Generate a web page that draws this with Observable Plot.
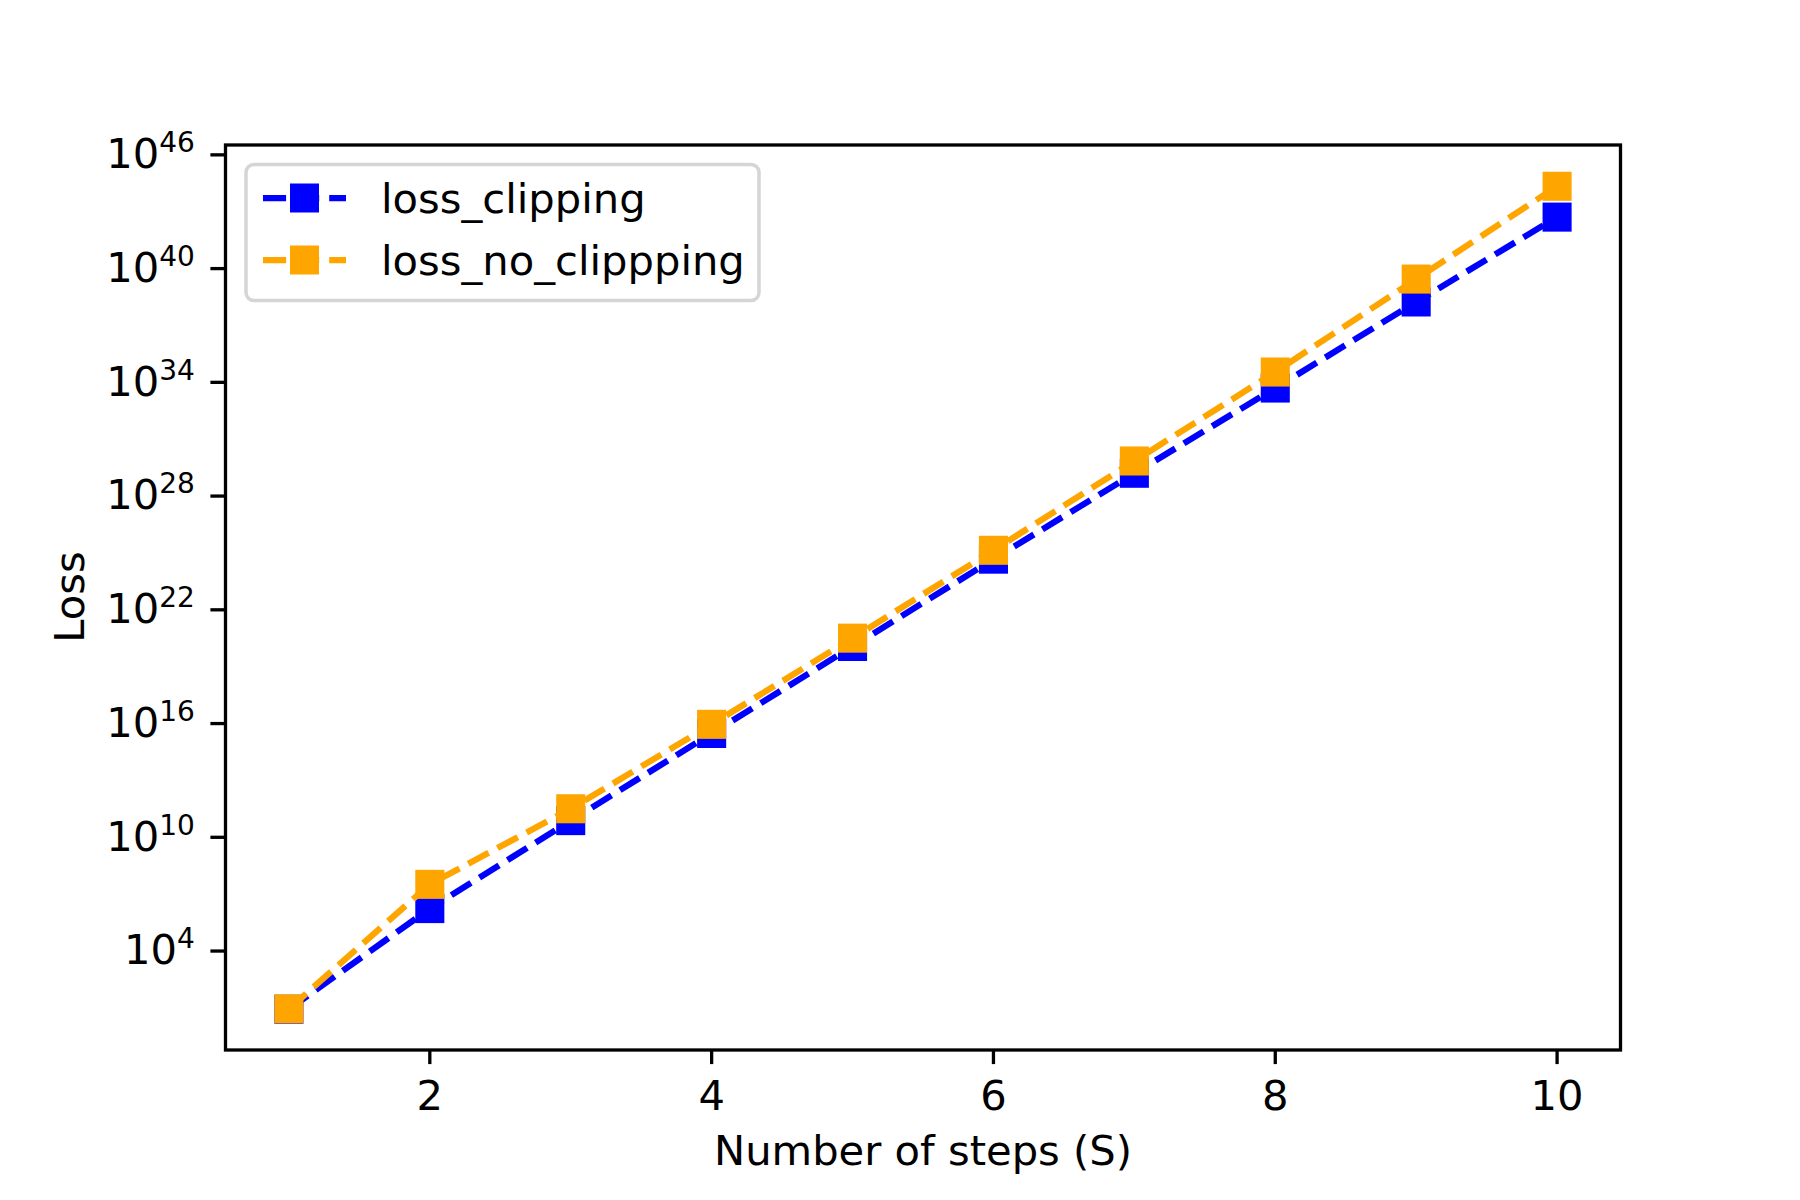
<!DOCTYPE html>
<html>
<head>
<meta charset="utf-8">
<script src="https://cdn.jsdelivr.net/npm/d3@7"></script>
<script src="https://cdn.jsdelivr.net/npm/@observablehq/plot@0.6"></script>
<style>
  html, body { margin: 0; padding: 0; background: #ffffff; }
  #chart { width: 1800px; height: 1200px; }
  svg { font-family: "DejaVu Sans", sans-serif; }
</style>
</head>
<body>
<div id="chart"></div>
<script>
// ---- Data ----
const steps = [1, 2, 3, 4, 5, 6, 7, 8, 9, 10];
const seriesNames = ["loss_clipping", "loss_no_clippping"];
const seriesColors = ["#0000ff", "#ffa500"];
const lossClipping   = [8.5, 1.74e6, 7.6e10, 3.0e15, 1.17e20, 4.7e24, 1.6e29, 5.0e33, 1.74e38, 5.2e42];
const lossNoClipping = [8.9, 3.3e7, 3.2e11, 9.1e15, 3.2e20, 1.38e25, 7.1e29, 3.5e34, 2.8e39, 2.2e44];
const xTicks = [2, 4, 6, 8, 10];
const yTicks = [1e4, 1e10, 1e16, 1e22, 1e28, 1e34, 1e40, 1e46];
const xLabel = "Number of steps (S)";
const yLabel = "Loss";

const seriesValues = [lossClipping, lossNoClipping];
const tables = seriesValues.map((vals, i) =>
  steps.map((s, j) => ({step: s, loss: vals[j], series: seriesNames[i]}))
);

const FS = 41.67;
const LW = 6.25;
const DASH = "23.1,10";
const R = 16.4;

const marks = [];
tables.forEach((rows, i) => {
  marks.push(Plot.line(rows, {x: "step", y: "loss", stroke: seriesColors[i], strokeWidth: LW, strokeDasharray: DASH, strokeLinecap: "butt", strokeLinejoin: "round"}));
  marks.push(Plot.dot(rows, {x: "step", y: "loss", symbol: "square", r: R, fill: seriesColors[i]}));
});

const MT = 144.5, MB = 150.5, ML = 225, MR = 180, H = 1200;

const chart = Plot.plot({
  width: 1800,
  height: H,
  marginLeft: ML,
  marginRight: MR,
  marginTop: MT,
  marginBottom: MB,
  style: {background: "#ffffff", fontFamily: "DejaVu Sans, sans-serif", color: "#000000"},
  x: {domain: [0.55, 10.45]},
  y: {type: "log", domain: [Math.pow(10, -1.22), Math.pow(10, 46.52)]},
  marks: [
    ...marks,
    Plot.frame({stroke: "#000000", strokeWidth: 3.3}),
    Plot.axisX({ticks: xTicks, tickSize: 14.6, tickPadding: 16, fontSize: FS, strokeWidth: 3.3, label: null, tickFormat: d => String(d)}),
    Plot.axisY({ticks: yTicks, tickSize: 14.6, tickPadding: 16, fontSize: FS, strokeWidth: 3.3, label: null,
      tickFormat: d => "10^" + Math.round(Math.log10(d))}),
    Plot.text([xLabel], {frameAnchor: "bottom", dy: 101.5, text: d => d, fontSize: FS, lineAnchor: "middle", fill: "#000"})
  ]
});

document.getElementById("chart").appendChild(chart);

const svg = d3.select(chart);

// superscript exponents on y tick labels
svg.selectAll('g[aria-label="y-axis tick label"] text').each(function() {
  const el = d3.select(this);
  const t = this.textContent;
  const m = t.match(/^10\^(-?\d+)$/);
  if (!m) return;
  el.text(null);
  el.append("tspan").text("10");
  el.append("tspan").attr("font-size", 28).attr("dy", -16).text(m[1]);
});

// y axis label
const yMid = (MT + (H - MB)) / 2;
svg.append("text")
  .attr("transform", `translate(69,${yMid}) rotate(-90)`)
  .attr("text-anchor", "middle").attr("dy", "0.35em")
  .attr("font-size", FS).attr("fill", "#000")
  .text(yLabel);

// legend (upper left, inside the axes)
const lg = svg.append("g").attr("class", "legend");
lg.append("rect")
  .attr("x", 246).attr("y", 164.5).attr("width", 513).attr("height", 136)
  .attr("rx", 8).attr("ry", 8)
  .attr("fill", "#ffffff").attr("fill-opacity", 0.8)
  .attr("stroke", "#d5d5d5").attr("stroke-width", 3.5);
seriesNames.forEach((name, i) => {
  const yy = 198 + i * 62;
  lg.append("line")
    .attr("x1", 263).attr("x2", 346).attr("y1", yy).attr("y2", yy)
    .attr("stroke", seriesColors[i]).attr("stroke-width", LW)
    .attr("stroke-dasharray", DASH);
  lg.append("rect")
    .attr("x", 304.5 - 14.5).attr("y", yy - 14.5).attr("width", 29).attr("height", 29)
    .attr("fill", seriesColors[i]);
  lg.append("text")
    .attr("x", 381).attr("y", yy).attr("dy", "0.35em")
    .attr("text-anchor", "start")
    .attr("font-size", FS).attr("fill", "#000")
    .text(name);
});
</script>
</body>
</html>
